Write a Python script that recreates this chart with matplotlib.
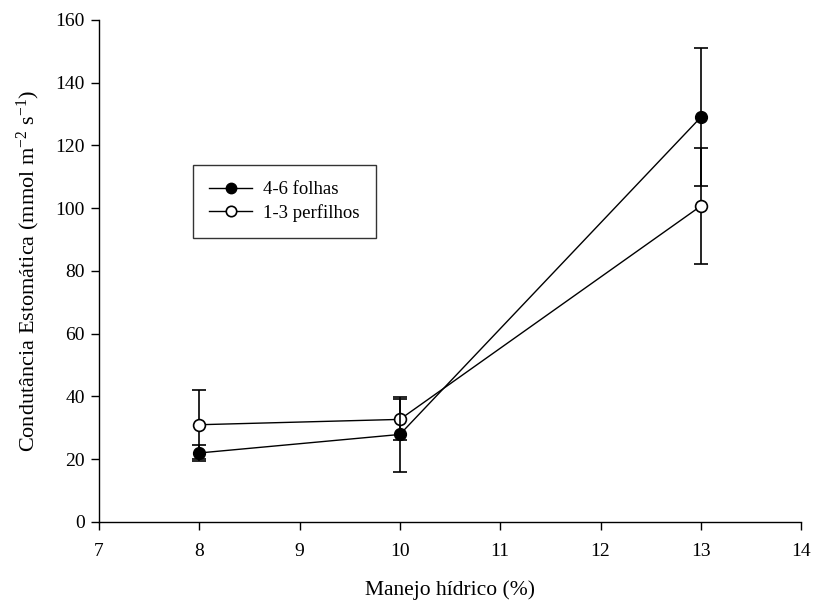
import numpy as np
import matplotlib
matplotlib.use("Agg")
import matplotlib.pyplot as plt
from matplotlib.lines import Line2D

plt.rcParams["font.family"] = ["Liberation Serif", "DejaVu Serif"]
plt.rcParams["mathtext.fontset"] = "custom"
plt.rcParams["mathtext.rm"] = "Liberation Serif"
plt.rcParams["mathtext.it"] = "Liberation Serif:italic"

# data
manejo = [8, 10, 13]
folhas = [22.0, 27.9, 129.0]
folhas_err = [2.5, 12.0, 22.0]
perfilhos = [31.0, 32.7, 100.7]
perfilhos_err = [11.0, 6.5, 18.5]

x_ticks = [7, 8, 9, 10, 11, 12, 13, 14]
y_ticks = [0, 20, 40, 60, 80, 100, 120, 140, 160]

fig = plt.figure(figsize=(8.14, 6.05), dpi=100)
ax = fig.add_axes([0.1216, 0.1372, 0.8626, 0.8298])

ax.errorbar(manejo, perfilhos, yerr=perfilhos_err, color="black", lw=1,
            marker="o", ms=8.5, mfc="white", mec="black", mew=1.2,
            capsize=5, elinewidth=1.2, capthick=1.2, zorder=3)
ax.errorbar(manejo, folhas, yerr=folhas_err, color="black", lw=1,
            marker="o", ms=8.5, mfc="black", mec="black",
            capsize=5, elinewidth=1.2, capthick=1.2, zorder=4)

ax.set_xlim(7, 14)
ax.set_ylim(0, 160)
ax.set_xticks(x_ticks)
ax.set_yticks(y_ticks)
ax.tick_params(direction="out", length=6, width=1, labelsize=14)
ax.tick_params(axis="x", pad=9)
ax.tick_params(axis="y", pad=4)
ax.spines["top"].set_visible(False)
ax.spines["right"].set_visible(False)
for s in ["left", "bottom"]:
    ax.spines[s].set_linewidth(1)

ax.set_xlabel("Manejo hídrico (%)", fontsize=15.5, labelpad=15)
ax.set_ylabel("Condutância Estomática (mmol m$^{-2}$ s$^{-1}$)", fontsize=16, labelpad=10)

# legend without error bars
h1 = Line2D([], [], color="black", lw=1, marker="o", ms=7.5, mfc="black", mec="black")
h2 = Line2D([], [], color="black", lw=1, marker="o", ms=7.5, mfc="white", mec="black", mew=1.2)
leg = ax.legend([h1, h2], ["4-6 folhas", "1-3 perfilhos"], loc="upper left",
                bbox_to_anchor=(0.134, 0.711), fontsize=13.5, frameon=True,
                fancybox=False, edgecolor="black", handlelength=2.3,
                borderpad=0.85, labelspacing=0.3, handletextpad=0.6,
                borderaxespad=0)
leg.get_frame().set_linewidth(1)

fig.savefig("out.png", dpi=100)
